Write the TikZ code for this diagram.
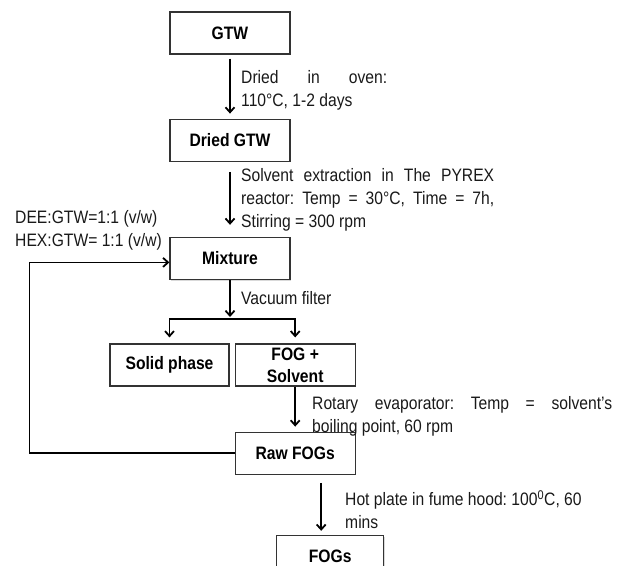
\documentclass[tikz,border=0pt]{standalone}
\usepackage{fontspec}
\setmainfont{Liberation Sans}[FakeStretch=0.87]
\usepackage{tikz}
\usetikzlibrary{arrows.meta,positioning,calc,shadows}
\frenchspacing
\tikzset{
  procbox/.style={
    rectangle, draw=black!80, line width=1.2pt, fill=white,
    minimum width=120pt, minimum height=42pt, inner sep=1pt,
    align=center, font=\fontsize{18}{22}\selectfont\bfseries,
    drop shadow={shadow xshift=1.2pt, shadow yshift=-1.2pt, opacity=0.3}
  },
  procarrow/.style={-{Straight Barb[length=5pt,width=9pt]}, line width=1.8pt, draw=black},
  proclabel/.style={anchor=north west, inner sep=0pt, font=\fontsize{18}{23}\selectfont, text=black!90},
}

\begin{document}
\begin{tikzpicture}[x=1pt, y=-1pt]
  \useasboundingbox (0,0) rectangle (618,565);
  % main chain
  \node (gtw) [procbox] at (230,33) {GTW};
  \node (dried) [procbox, below=64pt of gtw] {Dried GTW};
  \node (mix) [procbox, below=75pt of dried] {Mixture};
  \node (solid) [procbox, minimum width=119pt] at (169.5,365) {Solid phase};
  \node (fog) [procbox, right=5pt of solid] {FOG +\\Solvent};
  \node (raw) [procbox, below=45pt of fog] {Raw FOGs};
  \node (fogs) [procbox, minimum width=107pt, below=60pt of raw, xshift=35pt] {FOGs};
  % step conditions
  \node (ovenlab) [proclabel, text width=146pt, align=justify] at (241,70) {Dried in oven:\linebreak 110°C, 1-2 days};
  \node (solvlab) [proclabel, text width=253pt, align=justify] at (241,168) {Solvent extraction in The PYREX\linebreak reactor: Temp = 30°C, Time = 7h,\linebreak Stirring = 300 rpm};
  \node (ratiolab) [proclabel, align=left] at (15,210) {DEE:GTW=1:1 (v/w)\\HEX:GTW= 1:1 (v/w)};
  \node (vaclab) [proclabel] at (241,291) {Vacuum filter};
  \node (rotlab) [proclabel, text width=300pt, align=justify] at (312,396) {Rotary evaporator: Temp = solvent’s\linebreak boiling point, 60 rpm};
  \node (hotlab) [proclabel, align=left] at (345,490) {Hot plate in fume hood: 100\textsuperscript{0}C, 60\\mins};
  % connectors
  \draw[procarrow, shorten <=4pt, shorten >=5pt] (gtw) -- (dried);
  \draw[procarrow, shorten <=10pt, shorten >=12pt] (dried) -- (mix);
  \coordinate (split) at ($(mix.south)+(0,39)$);
  \draw[procarrow, shorten >=2pt] (mix) -- (split);
  \draw[procarrow, shorten >=6pt] (split) -| (solid.north);
  \draw[procarrow, shorten >=6pt] (split) -| (fog.north);
  \draw[procarrow, shorten >=5pt] (fog) -- (raw);
  \draw[procarrow, shorten <=8pt, shorten >=4pt] ([xshift=26pt]raw.south) -- ([xshift=26pt]raw.south |- fogs.north);
  \draw[procarrow] (raw.west) -| ($(mix.west)+(-140,4)$) -- ([yshift=-4pt]mix.west);
\end{tikzpicture}
\end{document}
